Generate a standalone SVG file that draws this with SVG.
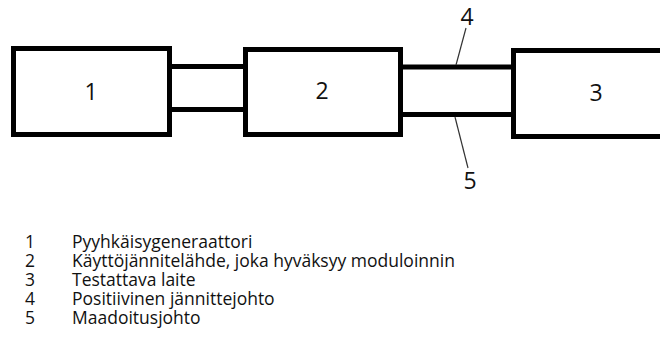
<svg xmlns="http://www.w3.org/2000/svg" width="660" height="356" viewBox="0 0 660 356">
<style>
.box{fill:#fff;stroke:#000;stroke-width:5}
.wire{stroke:#000;stroke-width:5;fill:none}
.lead{stroke:#333;stroke-width:1.2;fill:none}
.big{font-family:"Open Sans","Liberation Sans",sans-serif;font-size:23px;fill:#111;text-anchor:middle}
.leg{font-family:"Open Sans","Liberation Sans",sans-serif;font-size:17.5px;fill:#111}
</style>
<rect width="660" height="356" fill="#fff"/>
<g id="connectors">
<line class="wire" x1="170" y1="66.5" x2="245" y2="66.5"/>
<line class="wire" x1="170" y1="109.5" x2="245" y2="109.5"/>
<line class="wire" x1="401" y1="67" x2="513" y2="67"/>
<line class="wire" x1="401" y1="114.5" x2="513" y2="114.5"/>
<line class="lead" x1="466" y1="28" x2="456" y2="65"/>
<line class="lead" x1="455" y1="117" x2="468" y2="168"/>
</g>
<g id="n1"><rect class="box" x="13.5" y="48.5" width="156" height="86"/><text class="big" x="91" y="100">1</text></g>
<g id="n2"><rect class="box" x="245.5" y="49.5" width="155" height="85"/><text class="big" x="322" y="99">2</text></g>
<g id="n3"><rect class="box" x="513.5" y="50.5" width="200" height="86"/><text class="big" x="596" y="101">3</text></g>
<g id="n4"><text class="big" x="467" y="25">4</text></g>
<g id="n5"><text class="big" x="470" y="189">5</text></g>
<g id="legend" class="leg">
<text x="25" y="248">1</text><text x="72" y="248">Pyyhkäisygeneraattori</text>
<text x="25" y="267">2</text><text x="72" y="267">Käyttöjännitelähde, joka hyväksyy moduloinnin</text>
<text x="25" y="286">3</text><text x="72" y="286">Testattava laite</text>
<text x="25" y="305">4</text><text x="72" y="305">Positiivinen jännittejohto</text>
<text x="25" y="324">5</text><text x="72" y="324">Maadoitusjohto</text>
</g>
</svg>
